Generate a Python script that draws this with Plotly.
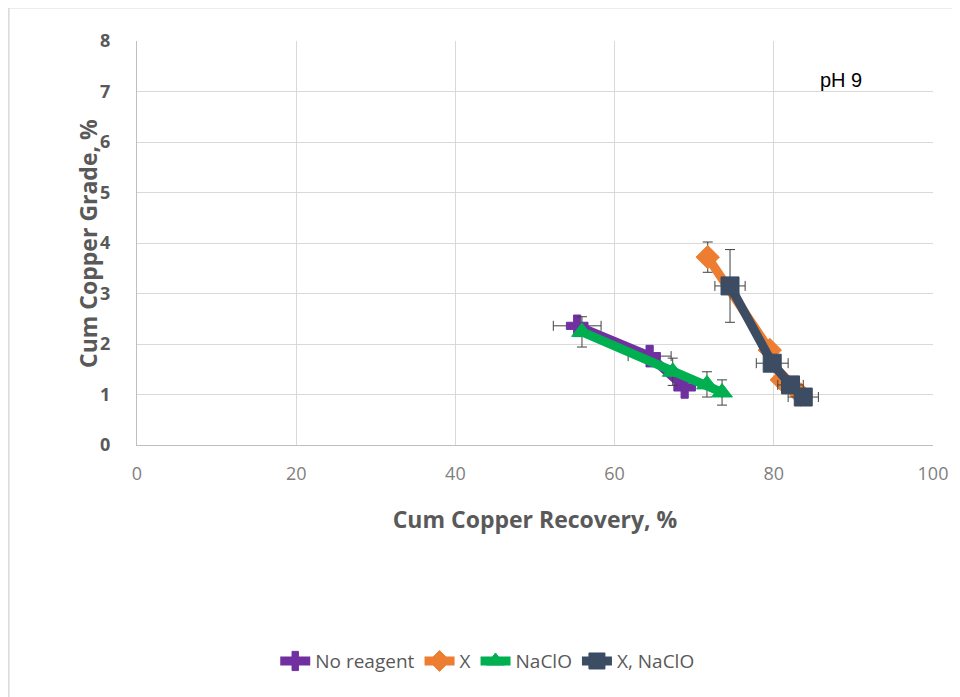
import plotly.graph_objects as go

# Data
no_reagent_x = [55.3, 64.4, 68.8]
no_reagent_y = [2.36, 1.76, 1.14]
no_reagent_ex = [3.0, 2.7, 0.0]
no_reagent_ey = [0.0, 0.0, 0.0]

x_x = [71.7, 79.5, 81.0, 83.4]
x_y = [3.72, 1.88, 1.29, 1.00]
x_ex = [0.0, 0.0, 0.0, 0.0]
x_ey = [0.3, 0.0, 0.0, 0.0]

naclo_x = [55.9, 67.3, 71.6, 73.5]
naclo_y = [2.24, 1.45, 1.20, 1.04]
naclo_ex = [0.0, 0.0, 0.0, 0.0]
naclo_ey = [0.3, 0.27, 0.25, 0.25]

xnaclo_x = [74.5, 79.8, 82.1, 83.7]
xnaclo_y = [3.15, 1.62, 1.19, 0.95]
xnaclo_ex = [1.9, 2.0, 1.6, 1.9]
xnaclo_ey = [0.72, 0.0, 0.0, 0.0]

series = [
    ("No reagent", no_reagent_x, no_reagent_y, no_reagent_ex, no_reagent_ey, "#7030A0", "cross"),
    ("X", x_x, x_y, x_ex, x_ey, "#ED7D31", "diamond"),
    ("NaClO", naclo_x, naclo_y, naclo_ex, naclo_ey, "#00B050", "triangle-up"),
    ("X, NaClO", xnaclo_x, xnaclo_y, xnaclo_ex, xnaclo_ey, "#3B4C63", "square"),
]

fig = go.Figure()
for name, xs, ys, ex, ey, col, sym in series:
    fig.add_trace(go.Scatter(
        x=xs, y=ys, name=name, mode="lines+markers",
        line=dict(color=col, width=9),
        marker=dict(color=col, symbol=sym, size=18, line=dict(color=col, width=1)),
        error_x=dict(type="data", array=ex, visible=True, color="#404040", thickness=1, width=5),
        error_y=dict(type="data", array=ey, visible=True, color="#404040", thickness=1, width=5),
    ))

fig.add_annotation(x=88.5, y=7.23, text="pH 9", showarrow=False,
                   font=dict(family="Liberation Sans, Arial", size=20, color="#000000"))
fig.add_annotation(xref="paper", yref="paper", x=-0.0616, y=0.5, xanchor="center", yanchor="middle",
                   text="<b>Cum Copper Grade, %</b>", textangle=-90, showarrow=False,
                   font=dict(size=23, color="#595959"))

fig.update_layout(
    width=960, height=697,
    margin=dict(l=129, r=35, t=33, b=260),
    paper_bgcolor="white", plot_bgcolor="white",
    font=dict(family="Open Sans, Liberation Sans", color="#595959"),
    legend=dict(orientation="h", x=0.44, xanchor="center", y=-0.535, yanchor="middle",
                font=dict(size=19, color="#595959"), tracegroupgap=0),
    shapes=[
        dict(type="line", xref="paper", yref="paper", x0=-0.161, x1=-0.161, y0=-0.7, y1=1.082,
             line=dict(color="#d9d9d9", width=1.5)),
        dict(type="line", xref="paper", yref="paper", x0=-0.161, x1=1.06, y0=1.082, y1=1.082,
             line=dict(color="#d9d9d9", width=1.5)),
    ],
)
fig.update_xaxes(range=[0, 100], tickvals=[0, 20, 40, 60, 80, 100], showgrid=True,
                 gridcolor="#d9d9d9", gridwidth=1, showline=True, linecolor="#bfbfbf",
                 zeroline=False, ticks="", ticklabelstandoff=12,
                 tickfont=dict(size=18, color="#7f7f7f", family="Liberation Sans Narrow, Open Sans"),
                 title=dict(text="<b>Cum Copper Recovery, %</b>", font=dict(size=23, color="#595959"),
                            standoff=28))
fig.update_yaxes(range=[0, 8], dtick=1, showgrid=True, gridcolor="#d9d9d9", gridwidth=1,
                 showline=True, linecolor="#bfbfbf", zeroline=False, ticks="", ticklabelstandoff=22,
                 tickfont=dict(size=18, color="#595959"), tickprefix="<b>", ticksuffix="</b>")

fig.write_html("out.html")
